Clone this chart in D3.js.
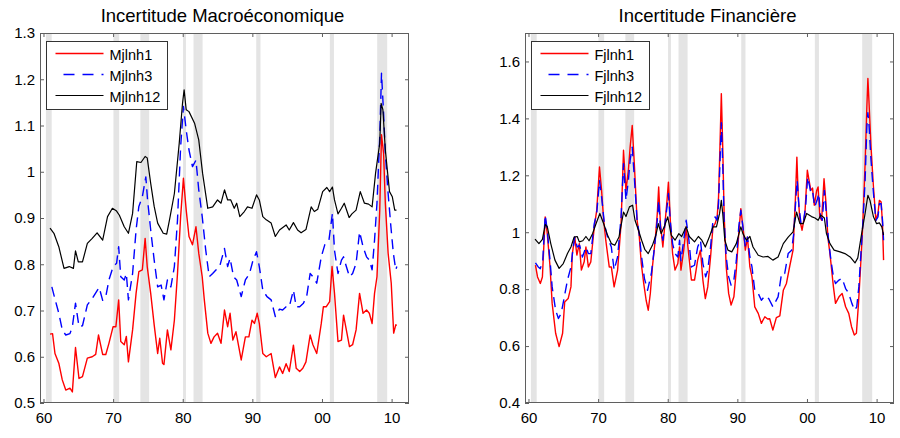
<!DOCTYPE html>
<html>
<head>
<meta charset="utf-8">
<script src="https://cdn.jsdelivr.net/npm/d3@7/dist/d3.min.js"></script>
<style>
  html, body { margin: 0; padding: 0; background: #fff; }
  svg { display: block; font-family: "Liberation Sans", Arial, Helvetica, sans-serif; }
</style>
</head>
<body>
<svg id="chart" width="900" height="438"></svg>
<script>
// NBER recession periods (decimal years)
const recessions = [
  [1960.35, 1961.18], [1970.05, 1970.87], [1973.92, 1975.18], [1980.05, 1980.46],
  [1981.55, 1982.85], [1990.56, 1991.17], [2001.13, 2001.72], [2007.93, 2009.37]
];

const xTicks = [1960, 1970, 1980, 1990, 2000, 2010];
const xTickLabels = ["60", "70", "80", "90", "00", "10"];

const macroTicks = [0.5, 0.6, 0.7, 0.8, 0.9, 1.0, 1.1, 1.2, 1.3];
const macroTickLabels = ["0.5", "0.6", "0.7", "0.8", "0.9", "1", "1.1", "1.2", "1.3"];
const finTicks = [0.4, 0.6, 0.8, 1.0, 1.2, 1.4, 1.6];
const finTickLabels = ["0.4", "0.6", "0.8", "1", "1.2", "1.4", "1.6"];

const macroNames = ["Mjlnh1", "Mjlnh3", "Mjlnh12"];
const finNames = ["Fjlnh1", "Fjlnh3", "Fjlnh12"];

// Macroeconomic uncertainty, horizon 1
const macroH1 = [[1960.94,0.649],[1961.3,0.65],[1961.65,0.607],[1962.2,0.586],[1962.7,0.55],[1963.2,0.528],[1963.8,0.532],[1964.15,0.524],[1964.6,0.62],[1965.1,0.553],[1965.6,0.557],[1966.3,0.597],[1967.0,0.6],[1967.5,0.605],[1967.9,0.647],[1968.5,0.605],[1968.95,0.605],[1969.4,0.629],[1970.0,0.665],[1970.4,0.665],[1970.8,0.723],[1971.1,0.633],[1971.6,0.626],[1971.9,0.644],[1972.2,0.589],[1972.8,0.658],[1973.3,0.737],[1973.7,0.784],[1974.2,0.788],[1974.6,0.856],[1974.9,0.795],[1975.4,0.737],[1975.9,0.669],[1976.4,0.607],[1976.7,0.64],[1977.1,0.586],[1977.3,0.583],[1977.8,0.658],[1978.3,0.615],[1978.8,0.679],[1979.25,0.78],[1979.7,0.903],[1980.1,0.986],[1980.5,0.917],[1980.9,0.86],[1981.4,0.842],[1981.9,0.881],[1982.3,0.824],[1982.8,0.773],[1983.1,0.723],[1983.6,0.651],[1984.05,0.629],[1984.5,0.643],[1985.0,0.651],[1985.5,0.629],[1986.0,0.701],[1986.45,0.665],[1986.8,0.694],[1987.2,0.636],[1987.65,0.654],[1988.4,0.593],[1989.0,0.643],[1989.5,0.643],[1989.95,0.679],[1990.3,0.672],[1990.7,0.694],[1991.0,0.672],[1991.5,0.607],[1992.0,0.6],[1992.7,0.607],[1993.3,0.555],[1993.9,0.578],[1994.35,0.564],[1994.85,0.585],[1995.3,0.568],[1995.9,0.625],[1996.3,0.575],[1996.8,0.568],[1997.25,0.575],[1997.7,0.589],[1998.3,0.647],[1998.7,0.626],[1999.25,0.607],[1999.9,0.672],[2000.2,0.708],[2000.6,0.708],[2001.1,0.719],[2001.45,0.795],[2001.8,0.737],[2002.3,0.633],[2002.8,0.636],[2003.1,0.69],[2003.5,0.658],[2003.95,0.622],[2004.4,0.626],[2004.9,0.658],[2005.4,0.737],[2005.9,0.694],[2006.4,0.701],[2006.8,0.694],[2007.2,0.672],[2007.55,0.737],[2007.9,0.773],[2008.3,0.917],[2008.55,1.08],[2008.85,1.04],[2009.1,0.932],[2009.5,0.824],[2009.95,0.759],[2010.3,0.651],[2010.6,0.669],[2010.75,0.668]];

// Macroeconomic uncertainty, horizon 3
const macroH3 = [[1961.2,0.751],[1961.7,0.722],[1962.2,0.694],[1962.7,0.658],[1963.2,0.647],[1963.8,0.65],[1964.15,0.665],[1964.6,0.716],[1965.1,0.665],[1965.6,0.667],[1966.3,0.712],[1967.0,0.726],[1967.75,0.744],[1968.0,0.75],[1968.5,0.722],[1968.95,0.73],[1969.4,0.766],[1970.0,0.795],[1970.5,0.802],[1970.8,0.838],[1971.1,0.773],[1971.6,0.766],[1971.9,0.78],[1972.2,0.723],[1972.8,0.78],[1973.3,0.874],[1973.7,0.925],[1974.2,0.946],[1974.7,0.989],[1974.95,0.939],[1975.4,0.874],[1975.9,0.809],[1976.4,0.751],[1976.9,0.755],[1977.3,0.723],[1977.8,0.766],[1978.3,0.751],[1978.8,0.795],[1979.25,0.896],[1979.7,1.054],[1980.1,1.141],[1980.5,1.09],[1980.9,1.047],[1981.4,1.011],[1981.9,1.025],[1982.3,0.961],[1982.8,0.903],[1983.3,0.831],[1983.8,0.773],[1984.3,0.78],[1984.8,0.788],[1985.3,0.795],[1986.0,0.834],[1986.45,0.795],[1986.8,0.813],[1987.3,0.773],[1987.75,0.766],[1988.4,0.73],[1989.0,0.766],[1989.6,0.78],[1990.1,0.809],[1990.6,0.827],[1991.0,0.795],[1991.5,0.744],[1992.1,0.73],[1992.7,0.723],[1993.3,0.687],[1993.9,0.703],[1994.35,0.701],[1994.85,0.708],[1995.3,0.708],[1995.9,0.744],[1996.3,0.708],[1996.8,0.708],[1997.3,0.715],[1997.8,0.73],[1998.3,0.78],[1998.7,0.773],[1999.25,0.759],[1999.9,0.816],[2000.4,0.842],[2001.0,0.852],[2001.5,0.91],[2001.8,0.83],[2002.3,0.78],[2002.8,0.809],[2003.1,0.816],[2003.5,0.795],[2003.95,0.773],[2004.4,0.78],[2004.9,0.802],[2005.4,0.87],[2005.9,0.838],[2006.4,0.816],[2006.8,0.809],[2007.2,0.788],[2007.55,0.852],[2007.9,0.932],[2008.3,1.076],[2008.55,1.213],[2008.85,1.126],[2009.1,1.04],[2009.5,0.953],[2009.9,0.881],[2010.25,0.824],[2010.6,0.788],[2010.75,0.795]];

// Macroeconomic uncertainty, horizon 12
const macroH12 = [[1960.94,0.878],[1961.5,0.867],[1962.2,0.838],[1962.95,0.791],[1963.7,0.795],[1964.3,0.791],[1964.6,0.829],[1965.0,0.805],[1965.6,0.805],[1966.3,0.845],[1967.0,0.856],[1967.7,0.868],[1968.5,0.852],[1969.2,0.903],[1969.9,0.921],[1970.5,0.915],[1970.9,0.906],[1971.6,0.881],[1972.2,0.867],[1972.8,0.91],[1973.4,1.022],[1974.0,1.02],[1974.6,1.033],[1974.9,1.03],[1975.4,0.975],[1975.9,0.925],[1976.4,0.889],[1977.2,0.867],[1977.7,0.865],[1978.1,0.896],[1978.8,0.953],[1979.5,1.062],[1979.97,1.148],[1980.2,1.177],[1980.5,1.134],[1980.9,1.13],[1981.7,1.105],[1982.3,1.069],[1982.85,0.997],[1983.6,0.921],[1984.3,0.924],[1985.0,0.939],[1985.5,0.932],[1986.0,0.961],[1986.45,0.939],[1986.9,0.939],[1987.4,0.921],[1987.75,0.932],[1988.2,0.903],[1988.85,0.914],[1989.3,0.924],[1989.95,0.921],[1990.6,0.95],[1991.0,0.939],[1991.5,0.903],[1992.0,0.896],[1992.7,0.889],[1993.3,0.86],[1993.9,0.874],[1994.85,0.885],[1995.3,0.874],[1995.9,0.89],[1996.5,0.874],[1997.0,0.868],[1997.7,0.875],[1998.45,0.924],[1998.9,0.914],[1999.4,0.919],[2000.1,0.957],[2000.7,0.966],[2001.1,0.957],[2001.5,0.967],[2001.8,0.939],[2002.3,0.909],[2002.8,0.921],[2003.2,0.932],[2003.9,0.901],[2004.3,0.909],[2004.9,0.917],[2005.5,0.957],[2006.1,0.932],[2006.7,0.93],[2007.2,0.924],[2007.7,0.997],[2008.3,1.062],[2008.5,1.148],[2008.75,1.134],[2009.1,1.047],[2009.7,0.957],[2010.1,0.946],[2010.45,0.917],[2010.7,0.917]];

// Financial uncertainty, horizon 1
const finH1 = [[1961.0,0.884],[1961.3,0.843],[1961.7,0.82],[1962.0,0.843],[1962.4,1.054],[1962.7,0.995],[1963.1,0.878],[1963.4,0.75],[1963.9,0.645],[1964.4,0.598],[1964.9,0.645],[1965.2,0.755],[1965.7,0.767],[1966.1,0.808],[1966.3,0.925],[1966.65,0.983],[1966.95,0.92],[1967.3,0.96],[1967.6,0.867],[1968.0,0.896],[1968.25,0.948],[1968.6,0.878],[1968.95,0.896],[1969.45,1.019],[1969.8,1.077],[1970.2,1.229],[1970.5,1.147],[1970.8,1.042],[1971.1,0.972],[1971.6,0.878],[1971.9,0.878],[1972.3,0.808],[1972.8,0.867],[1973.3,1.03],[1973.65,1.288],[1974.0,1.147],[1974.35,1.218],[1974.6,1.299],[1974.9,1.375],[1975.2,1.241],[1975.6,1.042],[1975.9,0.99],[1976.2,0.89],[1976.55,0.82],[1976.9,0.761],[1977.2,0.726],[1977.5,0.785],[1977.8,0.878],[1978.2,0.972],[1978.5,1.066],[1978.7,1.159],[1978.95,1.03],[1979.3,0.948],[1979.6,1.03],[1979.9,1.112],[1980.1,1.176],[1980.4,1.03],[1980.7,0.925],[1981.05,0.867],[1981.45,0.89],[1981.7,0.948],[1981.9,0.867],[1982.3,0.937],[1982.65,1.019],[1982.9,0.948],[1983.4,0.832],[1983.85,0.832],[1984.3,0.902],[1984.7,0.937],[1985.05,0.832],[1985.4,0.767],[1985.75,0.808],[1986.15,0.913],[1986.5,1.019],[1986.8,1.03],[1987.1,1.054],[1987.3,1.124],[1987.5,1.299],[1987.7,1.487],[1987.9,1.299],[1988.1,1.066],[1988.4,0.878],[1988.75,0.785],[1989.1,0.744],[1989.5,0.773],[1989.85,0.867],[1990.2,0.995],[1990.5,1.083],[1990.8,1.019],[1991.15,0.937],[1991.45,0.983],[1991.8,0.878],[1992.1,0.843],[1992.5,0.738],[1993.0,0.715],[1993.45,0.68],[1993.95,0.703],[1994.35,0.695],[1994.65,0.696],[1995.1,0.656],[1995.6,0.7],[1996.1,0.706],[1996.6,0.796],[1997.05,0.82],[1997.55,0.884],[1998.0,0.937],[1998.35,1.124],[1998.55,1.264],[1998.75,1.124],[1998.98,1.042],[1999.3,1.007],[1999.7,1.066],[2000.05,1.218],[2000.3,1.182],[2000.55,1.147],[2000.8,1.155],[2001.05,1.095],[2001.4,1.147],[2001.6,1.159],[2001.85,1.054],[2002.1,1.042],[2002.45,1.188],[2002.7,1.112],[2003.0,0.983],[2003.3,0.925],[2003.8,0.808],[2004.1,0.75],[2004.6,0.773],[2005.05,0.785],[2005.55,0.738],[2006.0,0.715],[2006.4,0.668],[2006.8,0.639],[2007.1,0.645],[2007.4,0.75],[2007.7,0.878],[2008.0,1.019],[2008.35,1.241],[2008.6,1.44],[2008.75,1.54],[2008.9,1.463],[2009.2,1.299],[2009.55,1.159],[2009.9,1.042],[2010.2,1.066],[2010.4,1.112],[2010.65,1.106],[2010.85,1.03],[2011.0,0.902]];

// Financial uncertainty, horizon 3
const finH3 = [[1961.0,0.892],[1961.4,0.878],[1961.7,0.872],[1962.05,0.9],[1962.4,1.06],[1962.7,1.007],[1963.1,0.9],[1963.4,0.808],[1963.9,0.726],[1964.3,0.697],[1964.7,0.715],[1965.15,0.773],[1965.6,0.832],[1966.1,0.878],[1966.4,0.943],[1966.65,0.983],[1967.0,0.948],[1967.35,0.954],[1967.75,0.913],[1968.25,0.948],[1968.6,0.925],[1968.95,0.925],[1969.45,1.03],[1969.8,1.066],[1970.2,1.182],[1970.5,1.124],[1970.9,1.03],[1971.35,0.983],[1971.9,0.948],[1972.3,0.867],[1972.8,0.913],[1973.3,1.054],[1973.65,1.241],[1974.0,1.112],[1974.35,1.182],[1974.6,1.253],[1974.9,1.299],[1975.2,1.194],[1975.6,1.042],[1975.9,0.995],[1976.25,0.913],[1976.65,0.838],[1977.1,0.796],[1977.65,0.855],[1978.1,0.948],[1978.5,1.042],[1978.7,1.112],[1978.95,1.019],[1979.3,0.972],[1979.6,1.03],[1979.9,1.089],[1980.1,1.136],[1980.4,1.03],[1980.7,0.96],[1981.05,0.925],[1981.45,0.913],[1981.7,0.972],[1981.9,0.9],[1982.3,0.972],[1982.65,1.042],[1983.0,0.983],[1983.4,0.878],[1983.85,0.884],[1984.3,0.948],[1984.7,0.972],[1985.05,0.89],[1985.45,0.843],[1985.75,0.867],[1986.15,0.948],[1986.5,1.042],[1986.8,1.054],[1987.1,1.042],[1987.3,1.1],[1987.5,1.241],[1987.7,1.385],[1987.9,1.241],[1988.1,1.042],[1988.4,0.913],[1988.75,0.843],[1989.1,0.814],[1989.5,0.832],[1989.85,0.9],[1990.2,1.019],[1990.5,1.077],[1990.8,1.019],[1991.15,0.948],[1991.45,0.983],[1991.8,0.913],[1992.1,0.878],[1992.5,0.796],[1993.0,0.785],[1993.45,0.761],[1993.95,0.776],[1994.5,0.767],[1995.1,0.738],[1995.85,0.773],[1996.35,0.855],[1996.8,0.855],[1997.3,0.925],[1997.8,0.937],[1998.1,0.995],[1998.45,1.136],[1998.6,1.182],[1998.85,1.089],[1999.15,1.03],[1999.45,1.03],[1999.8,1.089],[2000.1,1.194],[2000.4,1.159],[2000.6,1.13],[2000.85,1.136],[2001.1,1.089],[2001.45,1.112],[2001.7,1.136],[2001.95,1.054],[2002.2,1.042],[2002.5,1.147],[2002.75,1.077],[2003.1,0.972],[2003.45,0.9],[2003.8,0.843],[2004.1,0.82],[2004.6,0.832],[2005.05,0.838],[2005.55,0.802],[2006.0,0.785],[2006.45,0.75],[2006.85,0.726],[2007.15,0.738],[2007.45,0.808],[2007.75,0.925],[2008.05,1.042],[2008.35,1.182],[2008.6,1.369],[2008.75,1.42],[2008.9,1.381],[2009.2,1.253],[2009.55,1.136],[2009.9,1.042],[2010.2,1.054],[2010.4,1.1],[2010.65,1.1],[2010.85,1.042],[2011.0,0.972]];

// Financial uncertainty, horizon 12
const finH12 = [[1960.94,0.976],[1961.5,0.96],[1962.0,0.975],[1962.4,1.027],[1962.7,1.02],[1963.2,0.96],[1963.8,0.902],[1964.4,0.873],[1965.0,0.89],[1965.6,0.925],[1966.1,0.948],[1966.55,0.983],[1967.0,0.985],[1967.3,0.966],[1967.8,0.97],[1968.25,0.985],[1968.7,0.97],[1969.2,0.995],[1969.7,1.03],[1970.25,1.066],[1970.8,1.03],[1971.35,0.99],[1971.9,0.96],[1972.4,0.954],[1973.0,0.983],[1973.65,1.071],[1974.0,1.055],[1974.5,1.089],[1974.95,1.095],[1975.3,1.042],[1975.8,1.007],[1976.25,0.972],[1976.7,0.94],[1977.2,0.925],[1977.8,0.954],[1978.3,0.99],[1978.65,1.03],[1979.05,0.995],[1979.5,1.019],[1980.0,1.054],[1980.5,0.99],[1981.05,0.972],[1981.6,0.995],[1982.0,0.985],[1982.65,1.019],[1983.1,0.985],[1983.85,0.966],[1984.4,0.985],[1984.9,0.972],[1985.4,0.948],[1986.0,0.985],[1986.5,1.019],[1987.0,1.019],[1987.45,1.066],[1987.7,1.112],[1987.9,1.066],[1988.2,0.972],[1988.65,0.937],[1989.2,0.931],[1989.85,0.96],[1990.5,1.019],[1990.8,0.995],[1991.3,0.972],[1991.8,0.985],[1992.25,0.948],[1993.0,0.919],[1993.7,0.913],[1994.4,0.915],[1995.1,0.902],[1995.85,0.913],[1996.6,0.96],[1997.3,0.983],[1998.0,1.001],[1998.5,1.071],[1998.98,1.03],[1999.45,1.03],[1999.95,1.066],[2000.65,1.055],[2001.15,1.05],[2001.6,1.042],[2002.0,1.06],[2002.5,1.05],[2002.8,0.995],[2003.3,0.96],[2003.9,0.937],[2004.75,0.931],[2005.45,0.925],[2006.2,0.913],[2006.9,0.892],[2007.3,0.91],[2007.85,0.995],[2008.35,1.066],[2008.75,1.13],[2009.05,1.112],[2009.55,1.054],[2010.0,1.03],[2010.4,1.033],[2010.75,1.019],[2011.0,0.99]];

const seriesStyles = [
  { color: "#ff0000", width: 1.4, dash: null },
  { color: "#0000ff", width: 1.4, dash: "10,6" },
  { color: "#000000", width: 1.2, dash: null }
];

const svg = d3.select("#chart");
const axisColor = "#5f5f5f";

function drawPanel(opts) {
  const { left, top, width, height, yDomain, yTicks, yLabels, title, names, series, id } = opts;
  const g = svg.append("g").attr("transform", `translate(${left},${top})`);

  const x = d3.scaleLinear().domain([1959.5, 2012.5]).range([0, width]);
  const y = d3.scaleLinear().domain(yDomain).range([height, 0]);

  g.append("rect").attr("width", width).attr("height", height).attr("fill", "#fff");

  g.append("clipPath").attr("id", id).append("rect").attr("width", width).attr("height", height);
  const plot = g.append("g").attr("clip-path", `url(#${id})`);

  // recession shading
  plot.selectAll("rect.rec").data(recessions).join("rect")
    .attr("class", "rec")
    .attr("x", d => x(d[0]))
    .attr("width", d => x(d[1]) - x(d[0]))
    .attr("y", 0)
    .attr("height", height)
    .attr("fill", "#e4e4e4");

  const line = d3.line().x(d => x(d[0])).y(d => y(d[1]));
  series.forEach((s, i) => {
    const st = seriesStyles[i];
    plot.append("path")
      .datum(s)
      .attr("fill", "none")
      .attr("stroke", st.color)
      .attr("stroke-width", st.width)
      .attr("stroke-linejoin", "round")
      .attr("stroke-dasharray", st.dash)
      .attr("d", line);
  });

  const xFmt = d => xTickLabels[xTicks.indexOf(d)];
  const yFmt = d => yLabels[yTicks.indexOf(d)];

  const styleAxis = sel => {
    sel.select(".domain").remove();
    sel.selectAll(".tick line").attr("stroke", axisColor);
    sel.selectAll(".tick text").attr("fill", "#000").style("font-size", "15px")
      .style("font-family", "'Liberation Sans', Arial, sans-serif");
  };

  g.append("g").attr("transform", `translate(0,${height})`)
    .call(d3.axisBottom(x).tickValues(xTicks).tickFormat(xFmt).tickSizeInner(-4).tickSizeOuter(0).tickPadding(9))
    .call(styleAxis);
  g.append("g")
    .call(d3.axisTop(x).tickValues(xTicks).tickFormat("").tickSizeInner(-4).tickSizeOuter(0))
    .call(styleAxis);
  g.append("g")
    .call(d3.axisLeft(y).tickValues(yTicks).tickFormat(yFmt).tickSizeInner(-4).tickSizeOuter(0).tickPadding(5))
    .call(styleAxis);
  g.append("g").attr("transform", `translate(${width},0)`)
    .call(d3.axisRight(y).tickValues(yTicks).tickFormat("").tickSizeInner(-4).tickSizeOuter(0))
    .call(styleAxis);

  g.append("rect")
    .attr("x", 0.5).attr("y", 0.5)
    .attr("width", width - 1).attr("height", height - 1)
    .attr("fill", "none").attr("stroke", axisColor).attr("stroke-width", 1);

  g.append("text")
    .attr("x", width / 2 - 2).attr("y", -11)
    .attr("text-anchor", "middle")
    .style("font-size", "18.5px")
    .attr("fill", "#000")
    .text(title);

  // legend
  const lg = g.append("g").attr("transform", "translate(6.5,8.5)");
  const box = lg.append("rect").attr("fill", "#fff").attr("stroke", "#333").attr("stroke-width", 1);
  let maxW = 0;
  names.forEach((n, i) => {
    const st = seriesStyles[i];
    const cy = 12 + i * 21;
    lg.append("line")
      .attr("x1", st.dash ? 17 : 9).attr("x2", 57)
      .attr("y1", cy).attr("y2", cy)
      .attr("stroke", st.color).attr("stroke-width", st.width)
      .attr("stroke-dasharray", st.dash ? "11,8" : null);
    const t = lg.append("text")
      .attr("x", 63).attr("y", cy + 6.5)
      .style("font-size", "14.5px")
      .attr("fill", "#000")
      .text(n);
    maxW = Math.max(maxW, t.node().getComputedTextLength());
  });
  box.attr("width", Math.round(63 + maxW + 7)).attr("height", 68);
}

drawPanel({
  id: "clipMacro", left: 40, top: 33, width: 369, height: 370,
  yDomain: [0.5, 1.3], yTicks: macroTicks, yLabels: macroTickLabels,
  title: "Incertitude Macroéconomique", names: macroNames,
  series: [macroH1, macroH3, macroH12]
});

drawPanel({
  id: "clipFin", left: 525, top: 33, width: 369, height: 370,
  yDomain: [0.4, 1.7], yTicks: finTicks, yLabels: finTickLabels,
  title: "Incertitude Financière", names: finNames,
  series: [finH1, finH3, finH12]
});
</script>
</body>
</html>
